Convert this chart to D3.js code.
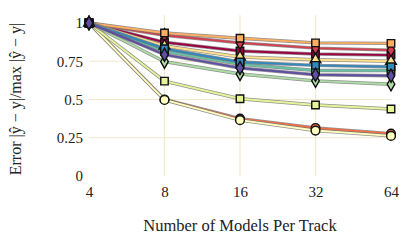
<!DOCTYPE html>
<html><head><meta charset="utf-8">
<script src="https://cdn.jsdelivr.net/npm/d3@7"></script>
<style>body{margin:0;background:#fff}svg{display:block}</style>
</head><body><svg id="c" width="415" height="248"></svg>
<script>
const xTicks = [4, 8, 16, 32, 64];
const yTicks = [0, 0.25, 0.5, 0.75, 1];
const yTickLabels = ["0", "0.25", "0.5", "0.75", "1"];
const seriesColors = ["#9e0142","#d53e4f","#f46d43","#fdae61","#fee08b","#ffffbf","#e6f598","#abdda4","#66c2a5","#3288bd","#5e4fa2"];
const seriesMarkers = ["square","diamond","circle","square","triangle","circle","square","diamond","square","square","diamond"];
const s0 = [1, 0.874, 0.817, 0.797, 0.79];
const s1 = [1, 0.92, 0.87, 0.836, 0.823];
const s2 = [1, 0.50, 0.375, 0.314, 0.277];
const s3 = [1, 0.935, 0.90, 0.87, 0.867];
const s4 = [1, 0.85, 0.778, 0.76, 0.75];
const s5 = [1, 0.497, 0.365, 0.297, 0.262];
const s6 = [1, 0.62, 0.505, 0.464, 0.438];
const s7 = [1, 0.747, 0.667, 0.622, 0.60];
const s8 = [1, 0.815, 0.73, 0.69, 0.69];
const s9 = [1, 0.832, 0.745, 0.723, 0.714];
const s10 = [1, 0.793, 0.706, 0.662, 0.655];
const seriesValues = [s0,s1,s2,s3,s4,s5,s6,s7,s8,s9,s10];

const FONT = "'Palatino Linotype','Book Antiqua',Palatino,'Liberation Serif',serif";
const svg = d3.select("#c");
const L = 89, R = 391, T = 23, B = 176;
const x = d3.scaleLog().base(2).domain([4, 64]).range([L, R]);
const y = d3.scaleLinear().domain([0, 1]).range([B, T]);

// grid
const g = svg.append("g");
g.selectAll(".hg").data(yTicks.filter(v => v > 0 && v < 1)).join("line")
  .attr("x1", L).attr("x2", R).attr("y1", d => y(d)).attr("y2", d => y(d))
  .attr("stroke", "#f1e9cc").attr("stroke-width", 1.2);
g.selectAll(".vg").data(xTicks.filter(v => v > 4 && v < 64)).join("line")
  .attr("y1", T - 8).attr("y2", B).attr("x1", d => x(d)).attr("x2", d => x(d))
  .attr("stroke", "#f1e9cc").attr("stroke-width", 1.2);

// axes
const xAxis = d3.axisBottom(x).tickValues(xTicks).tickFormat(d3.format("d")).tickSize(0).tickPadding(8);
const xa = svg.append("g").attr("transform", `translate(0,${B + 2})`).call(xAxis);
const yAxis = d3.axisLeft(y).tickValues(yTicks).tickFormat((d, i) => yTickLabels[i]).tickSize(0).tickPadding(6);
const ya = svg.append("g").attr("transform", `translate(${L},0)`).call(yAxis);
[xa, ya].forEach(a => {
  a.attr("font-family", FONT).attr("font-size", 15);
  a.select(".domain").remove();
  a.selectAll("text").attr("font-size", 15).attr("font-family", FONT).attr("fill", "#222");
});

svg.append("text").attr("x", 240).attr("y", 231).attr("text-anchor", "middle").attr("font-size", 16.5)
  .attr("font-family", FONT).attr("fill", "#222")
  .text("Number of Models Per Track");
svg.append("text").attr("transform", "translate(21,99) rotate(-90)").attr("text-anchor", "middle").attr("font-size", 16)
  .attr("font-family", FONT).attr("fill", "#222")
  .text("Error |ŷ − y|/max |ŷ − y|");

// lines
const line = d3.line().x((d, i) => x(xTicks[i])).y(d => y(d));
const lg = svg.append("g");
seriesValues.forEach((vals, k) => {
  lg.append("path").attr("d", line(vals)).attr("fill", "none").attr("stroke", "#777").attr("stroke-opacity", 0.8).attr("stroke-width", 3.4);
  lg.append("path").attr("d", line(vals)).attr("fill", "none").attr("stroke", seriesColors[k]).attr("stroke-width", 1.9);
});
// markers
const symMap = {square: d3.symbolSquare, diamond: d3.symbolDiamond, circle: d3.symbolCircle, triangle: d3.symbolTriangle};
const sizeMap = {square: 56, diamond: 50, circle: 60, triangle: 50};
seriesValues.forEach((vals, k) => {
  const m = seriesMarkers[k];
  lg.selectAll(null).data(vals).join("path")
    .attr("transform", (d, i) => `translate(${x(xTicks[i])},${y(d)})`)
    .attr("d", d3.symbol().type(symMap[m]).size(sizeMap[m]))
    .attr("fill", seriesColors[k]).attr("stroke", "#111").attr("stroke-width", 1.4);
});
</script></body></html>
